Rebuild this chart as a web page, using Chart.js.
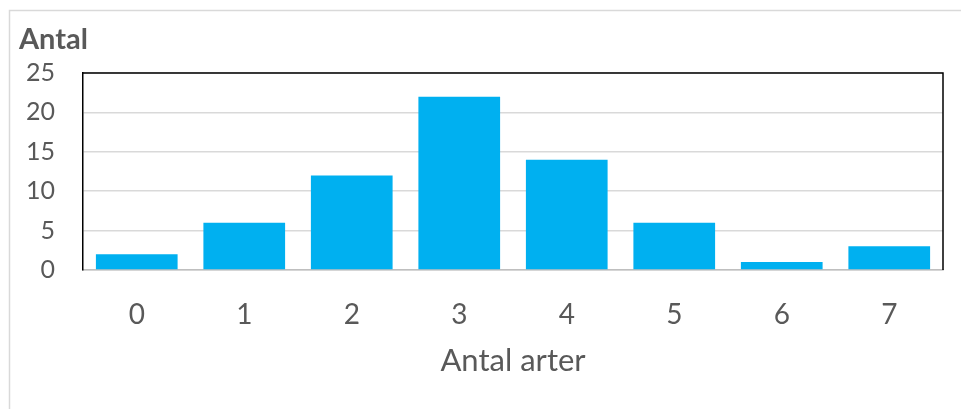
<!DOCTYPE html>
<html>
<head>
<meta charset="utf-8">
<style>
  html, body { margin: 0; padding: 0; background: #ffffff; }
  #wrap { position: relative; width: 961px; height: 409px; }
</style>
<script src="https://cdn.jsdelivr.net/npm/chart.js@4/dist/chart.umd.min.js"></script>
</head>
<body>
<div id="wrap"><canvas id="chart" width="961" height="409"></canvas></div>
<script>
// Antal arter per observation and how often each occurred
const categories = ['0', '1', '2', '3', '4', '5', '6', '7'];
const counts = [2, 6, 12, 22, 14, 6, 1, 3];
const yTicks = [0, 5, 10, 15, 20, 25];

const TEXT = '#595959';
const FONT = 'Lato, "Open Sans", sans-serif';

// light outer frame (left and top edges) plus the black plot-area box
const framePlugin = {
  id: 'frame',
  beforeDraw(chart) {
    const ctx = chart.ctx;
    ctx.save();
    ctx.strokeStyle = '#d9d9d9';
    ctx.lineWidth = 1.5;
    ctx.beginPath();
    ctx.moveTo(9.5, chart.height);
    ctx.lineTo(9.5, 10.5);
    ctx.lineTo(chart.width, 10.5);
    ctx.stroke();
    ctx.restore();
  },
  afterDraw(chart) {
    const { left, right, top, bottom } = chart.chartArea;
    const ctx = chart.ctx;
    ctx.save();
    ctx.strokeStyle = '#000000';
    ctx.lineWidth = 1.5;
    ctx.beginPath();
    ctx.moveTo(left, top);
    ctx.lineTo(right, top);
    ctx.lineTo(right, bottom);
    ctx.stroke();
    ctx.restore();
  }
};

new Chart(document.getElementById('chart'), {
  type: 'bar',
  data: {
    labels: categories,
    datasets: [{
      data: counts,
      backgroundColor: '#00b0f0',
      borderWidth: 0,
      barPercentage: 0.76,
      categoryPercentage: 1.0
    }]
  },
  plugins: [framePlugin],
  options: {
    responsive: false,
    animation: false,
    layout: { padding: { left: 19, right: 18, top: 22, bottom: 0 } },
    plugins: {
      legend: { display: false },
      tooltip: { enabled: false },
      title: {
        display: true,
        text: 'Antal',
        align: 'start',
        color: TEXT,
        font: { family: FONT, size: 29, weight: 'bold', lineHeight: 1.2 },
        padding: { top: 0, bottom: 16.2 }
      }
    },
    scales: {
      x: {
        type: 'category',
        offset: true,
        grid: { display: false, drawTicks: false },
        border: { display: true, color: '#bfbfbf', width: 1.5 },
        ticks: {
          color: TEXT,
          padding: 28,
          font: { family: FONT, size: 28, lineHeight: 1.2 }
        },
        title: {
          display: true,
          text: 'Antal arter',
          color: TEXT,
          font: { family: FONT, size: 31, lineHeight: 1.2 },
          padding: { top: 0, bottom: 29 }
        },
        afterFit(scale) { scale.height = 139; }
      },
      y: {
        min: 0,
        max: 25,
        afterBuildTicks(scale) { scale.ticks = yTicks.map(v => ({ value: v })); },
        grid: { color: '#d9d9d9', lineWidth: 1.5, drawTicks: false },
        border: { display: true, color: '#000000', width: 1.5 },
        ticks: {
          color: TEXT,
          padding: 28,
          font: { family: FONT, size: 25, lineHeight: 1.2 }
        },
        afterFit(scale) { scale.width = 64; }
      }
    }
  }
});
</script>
</body>
</html>
